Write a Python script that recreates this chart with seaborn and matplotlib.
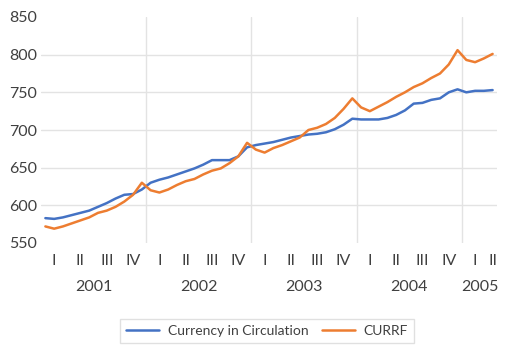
import numpy as np
import pandas as pd
import matplotlib
matplotlib.use('Agg')
import matplotlib.pyplot as plt
import seaborn as sns

# Monthly data Jan 2001 - Apr 2005
years = [2001] * 12 + [2002] * 12 + [2003] * 12 + [2004] * 12 + [2005] * 4
quarters = (['I'] * 3 + ['II'] * 3 + ['III'] * 3 + ['IV'] * 3) * 4 + ['I'] * 3 + ['II']

currency = [583, 582, 584, 587, 590, 593, 598, 603, 609, 614, 615, 621,
            630, 634, 637, 641, 645, 649, 654, 660, 660, 660, 665, 677,
            680, 682, 684, 687, 690, 692, 694, 695, 697, 701, 707, 715,
            714, 714, 714, 716, 720, 726, 735, 736, 740, 742, 750, 754,
            750, 752, 752, 753]
currf = [572, 569, 572, 576, 580, 584, 590, 593, 598, 605, 614, 630,
         620, 617, 621, 627, 632, 635, 641, 646, 649, 656, 665, 683,
         674, 670, 676, 680, 685, 690, 700, 703, 708, 716, 728, 742,
         730, 725, 731, 737, 744, 750, 757, 762, 769, 775, 787, 806,
         793, 790, 795, 801]
series_names = ['Currency in Circulation', 'CURRF']
colors = ['#4472C4', '#ED7D31']

idx = np.arange(len(years))
df = pd.DataFrame({'idx': np.concatenate([idx, idx]),
                   'value': currency + currf,
                   'series': [series_names[0]] * len(idx) + [series_names[1]] * len(idx)})

sns.set_style('white')
plt.rcParams['font.family'] = ['Lato', 'DejaVu Sans']
txt = '#404040'

fig = plt.figure(figsize=(5.13, 3.53), dpi=100)
ax = fig.add_axes([41 / 513, 1 - 243 / 353, 456 / 513, 226 / 353])

sns.lineplot(data=df, x='idx', y='value', hue='series', palette=colors,
             linewidth=1.8, ax=ax, legend=False)

ax.set_xlim(-0.5, len(idx) - 0.5)
ax.set_ylim(550, 850)
ax.set_yticks(range(550, 851, 50))
ax.tick_params(axis='y', labelsize=11.5, colors=txt, length=0, pad=3)
ax.yaxis.grid(True, color='#e3e3e3', linewidth=1)
gl = ax.get_ygridlines()
gl[0].set_visible(False)
gl[-1].set_visible(False)

# quarter labels and year labels, centred on their months
lab = pd.DataFrame({'idx': idx, 'year': years, 'q': quarters})
qc = lab.groupby(['year', 'q'], sort=False)['idx'].mean()
ax.set_xticks(qc.values, labels=[q for _, q in qc.index])
ax.tick_params(axis='x', labelsize=11.5, colors=txt, length=0, pad=8)
yc = lab.groupby('year')['idx'].mean()
for yr, c in yc.items():
    ax.text(c, -0.195, str(yr), transform=ax.get_xaxis_transform(),
            ha='center', va='center', fontsize=11.5, color=txt)

# year separators
bounds = lab.groupby('year')['idx'].max().values[:-1] + 0.5
for b in bounds:
    ax.axvline(b, color='#e3e3e3', linewidth=1, zorder=0)

sns.despine(ax=ax, left=True, bottom=True)
ax.set_xlabel('')
ax.set_ylabel('')

handles = [plt.Line2D([], [], color=c, linewidth=1.8) for c in colors]
fig.legend(handles, series_names, loc='center', bbox_to_anchor=(267 / 513, 1 - 331 / 353),
           ncol=2, fontsize=10, frameon=True, fancybox=False, edgecolor='#d9d9d9',
           handlelength=2.4, columnspacing=1.0, handletextpad=0.6, labelcolor=txt)

fig.savefig('out.png', dpi=100, facecolor='white')
